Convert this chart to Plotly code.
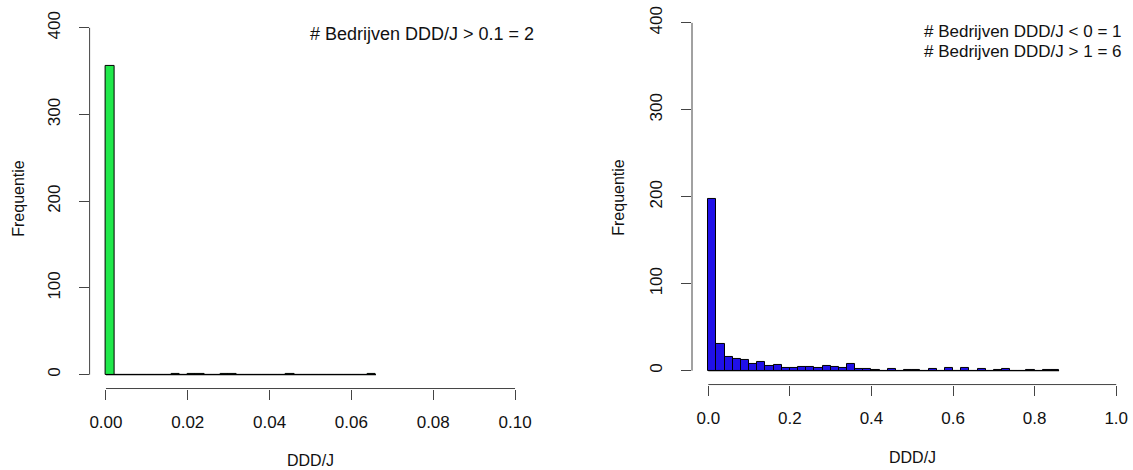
import plotly.graph_objects as go

# ---- data ----
left_bin_width = 0.002
left_counts = [356, 0, 0, 0, 0, 0, 0, 0, 1, 0, 1, 1, 0, 0, 1, 1, 0,
               0, 0, 0, 0, 0, 1, 0, 0, 0, 0, 0, 0, 0, 0, 0, 1]
right_bin_width = 0.02
right_counts = [198, 31, 16, 14, 12, 8, 10, 5, 7, 3, 3, 4, 4, 3, 5, 4, 3, 8,
                2, 2, 1, 0, 2, 0, 1, 1, 0, 2, 0, 3, 0, 3, 0, 2, 0, 1, 2, 0,
                0, 1, 0, 1, 1]
left_xticks = [0.00, 0.02, 0.04, 0.06, 0.08, 0.10]
left_xticklabels = ["0.00", "0.02", "0.04", "0.06", "0.08", "0.10"]
right_xticks = [0.0, 0.2, 0.4, 0.6, 0.8, 1.0]
right_xticklabels = ["0.0", "0.2", "0.4", "0.6", "0.8", "1.0"]
yticks = [0, 100, 200, 300, 400]
left_note = ["# Bedrijven DDD/J > 0.1 = 2"]
right_note = ["# Bedrijven DDD/J < 0 = 1", "# Bedrijven DDD/J > 1 = 6"]
x_title = "DDD/J"
y_title = "Frequentie"

W, H = 1133, 470
FONT = "Liberation Sans, Arial, sans-serif"
AX = "#444444"

def centers(counts, w):
    return [w * (i + 0.5) for i in range(len(counts))]

fig = go.Figure()
fig.add_trace(go.Bar(x=centers(left_counts, left_bin_width), y=left_counts,
                     width=left_bin_width, marker=dict(color="#20E84A", line=dict(color="black", width=1)),
                     xaxis="x", yaxis="y", showlegend=False))
fig.add_trace(go.Scatter(x=[0, left_bin_width * len(left_counts)], y=[0, 0], mode="lines",
                         line=dict(color="black", width=1.2), xaxis="x", yaxis="y", showlegend=False))
fig.add_trace(go.Bar(x=centers(right_counts, right_bin_width), y=right_counts,
                     width=right_bin_width, marker=dict(color="#2010E8", line=dict(color="black", width=1)),
                     xaxis="x2", yaxis="y2", showlegend=False))
fig.add_trace(go.Scatter(x=[0, right_bin_width * len(right_counts)], y=[0, 0], mode="lines",
                         line=dict(color="black", width=1.2), xaxis="x2", yaxis="y2", showlegend=False))

def px(x):
    return x / W

def py(y):
    return 1 - y / H

def xr(ticks):
    span = ticks[-1] - ticks[0]
    return [ticks[0] - 0.04 * span, ticks[-1] + 0.04 * span]

yr = [yticks[0] - 0.04 * (yticks[-1] - yticks[0]), yticks[-1] + 0.04 * (yticks[-1] - yticks[0])]

TICKFONT = dict(family=FONT, size=17, color="#111")
common_x = dict(showgrid=False, zeroline=False, showline=False, ticks="outside", ticklen=10,
                tickcolor=AX, tickwidth=1, tickfont=TICKFONT,
                ticklabelstandoff=8, fixedrange=True)
common_y = dict(showgrid=False, zeroline=False, showline=False, ticks="outside", ticklen=10,
                tickcolor=AX, tickwidth=1, tickfont=TICKFONT,
                tickangle=-90, ticklabelstandoff=12, tickvals=yticks,
                ticktext=[str(v) for v in yticks], range=yr, fixedrange=True)

fig.update_layout(
    width=W, height=H, margin=dict(l=0, r=0, t=0, b=0),
    paper_bgcolor="white", plot_bgcolor="white", bargap=0,
    xaxis=dict(domain=[px(89.6), px(531.4)], range=xr(left_xticks), tickvals=left_xticks,
               ticktext=left_xticklabels, anchor="y", **common_x),
    yaxis=dict(domain=[py(388), py(11)], anchor="x", **common_y),
    xaxis2=dict(domain=[px(692), px(1132.5)], range=xr(right_xticks), tickvals=right_xticks,
                ticktext=right_xticklabels, anchor="y2", **common_x),
    yaxis2=dict(domain=[py(384), py(6)], anchor="x2", **common_y),
)

shapes = []
for xa, ya, xt in [("x", "y", left_xticks), ("x2", "y2", right_xticks)]:
    shapes.append(dict(type="line", xref=xa, yref=ya + " domain", x0=xt[0], x1=xt[-1], y0=0, y1=0,
                       line=dict(color=AX, width=1)))
    shapes.append(dict(type="line", xref=xa + " domain", yref=ya, x0=0, x1=0, y0=yticks[0], y1=yticks[-1],
                       line=dict(color=AX, width=1)))
fig.update_layout(shapes=shapes)

ann = []
f16 = dict(family=FONT, size=16, color="#111")
f18 = dict(family=FONT, size=18, color="#111")
f17 = dict(family=FONT, size=17, color="#111")
ann.append(dict(text=x_title, xref="paper", yref="paper", x=px(310), y=py(460), showarrow=False,
                xanchor="center", yanchor="middle", font=f16))
ann.append(dict(text=x_title, xref="paper", yref="paper", x=px(912), y=py(457), showarrow=False,
                xanchor="center", yanchor="middle", font=f16))
ann.append(dict(text=y_title, xref="paper", yref="paper", x=px(19), y=py(197), showarrow=False,
                textangle=-90, xanchor="center", yanchor="middle", font=f16))
ann.append(dict(text=y_title, xref="paper", yref="paper", x=px(619), y=py(195), showarrow=False,
                textangle=-90, xanchor="center", yanchor="middle", font=f16))
ann.append(dict(text=left_note[0], xref="paper", yref="paper", x=px(308), y=py(31), showarrow=False,
                xanchor="left", yanchor="middle", font=f18))
for i, t in enumerate(right_note):
    ann.append(dict(text=t, xref="paper", yref="paper", x=px(1123), y=py(29 + 20 * i), showarrow=False,
                    xanchor="right", yanchor="middle", font=f17))
fig.update_layout(annotations=ann)

fig.write_html("out.html", config={"displayModeBar": False},
               post_script="document.body.style.margin='0';document.body.style.padding='0';"
                           "document.body.style.overflow='hidden';")
